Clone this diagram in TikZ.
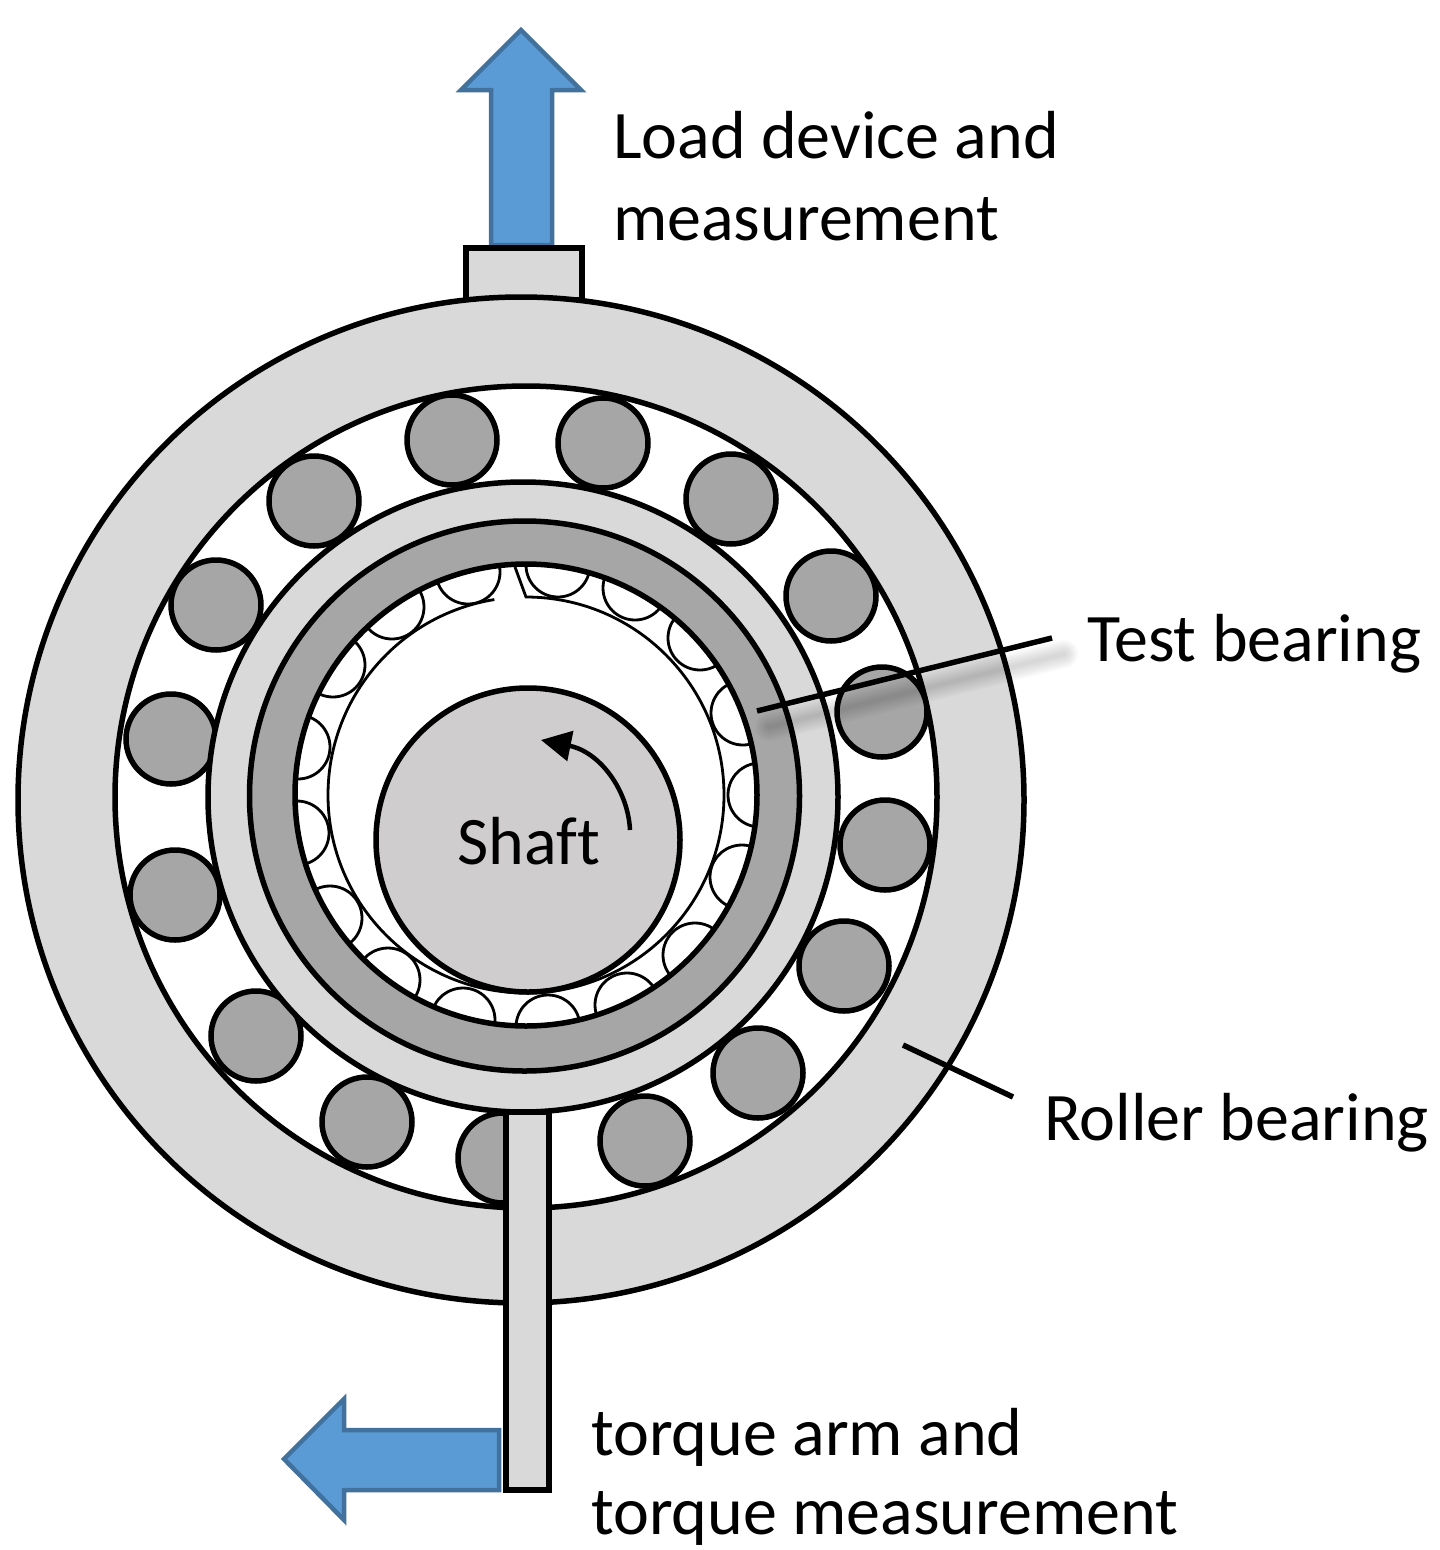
\documentclass[tikz,border=0pt]{standalone}
\usepackage{fontspec}
\setmainfont{Carlito}[Ligatures=NoCommon]
\usetikzlibrary{arrows.meta}
\definecolor{ringgrey}{HTML}{D9D9D9}
\definecolor{ballgrey}{HTML}{A6A6A6}
\definecolor{shaftgrey}{HTML}{CFCDCE}
\definecolor{arrowblue}{HTML}{5B9BD5}
\definecolor{arrowedge}{HTML}{41719C}
\tikzset{
  part/.style={draw=black,line width=5.5pt},
  ringpart/.style={part,fill=ringgrey},
  ballpart/.style={part,fill=ballgrey},
  smallball/.style={draw=black,line width=2.8pt},
  leader/.style={draw=black,line width=5.5pt},
  bluearrow/.style={draw=arrowedge,line width=4.5pt,fill=arrowblue,miter limit=10},
  label/.style={inner sep=0pt,anchor=base west,font=\fontsize{68}{76}\selectfont,text=black},
}
\begin{document}
\begin{tikzpicture}[x=1pt,y=-1pt]
\useasboundingbox (0,0) rectangle (1440,1550);
% load arrow and lug
\draw[bluearrow] (491,245) -- (491,90) -- (461,90) -- (521,30) -- (581,90) -- (552,90) -- (552,245) -- cycle;
\draw[ringpart] (466,248) rectangle (582,300);
% outer ring
\draw[ringpart] (521,800) circle [radius=503];
\draw[part,fill=white] (526,797) circle [radius=411];
% big rollers
\foreach \cx/\cy in {452/440,603/443,731/499,831/596,882/712,885/845,844/966,758/1073,645/1141,503/1158,367/1122,256/1036,175/895,171/739,216/605,314/501}
  \draw[ballpart] (\cx,\cy) circle [radius=45];
% races
\draw[ringpart] (523,797) circle [radius=315];
\draw[part,fill=ballgrey] (524.5,796) circle [radius=275];
\draw[fill=white,draw=none] (526,795) circle [radius=231];
% small rollers of the test bearing
\begin{scope}
\clip (526,795) circle [radius=231];
\foreach \cx/\cy in {468/572,392/607,333/665,298/747,297/833,330/918,388/980,463/1020,548/1027,627/1005,695/955,742/877,760/795,743/713,700/638,635/588,558/565}
  \draw[smallball] (\cx,\cy) circle [radius=32];
\end{scope}
\draw[part,fill=none] (526,795) circle [radius=231];
% inner race with its slot
\coordinate (slotA) at (515,567);
\coordinate (slotB) at (526,597);
\draw[smallball,line join=miter] (slotA) -- (slotB) arc [start angle=-90,end angle=260.8,radius=198];
% shaft
\node (shaft) [circle,draw=black,line width=5.5pt,fill=shaftgrey,minimum size=304pt,inner sep=0pt] at (528,840) {};
\coordinate (spinA) at (630,830);
\coordinate (spinB) at (541,740);
\draw[line width=4.5pt,-{Triangle[length=30pt,width=30pt]}] (spinA) .. controls (628,790) and (600,752) .. (spinB);
\node (shaftlabel) [label] at (457,864) {Shaft};
% torque arrow and arm
\draw[bluearrow] (499,1430) -- (344,1430) -- (344,1399) -- (284,1459) -- (344,1520) -- (344,1490) -- (499,1490) -- cycle;
\draw[ringpart] (506,1112) rectangle (549,1490);
% leaders
\coordinate (testA) at (757,711);
\coordinate (testB) at (1052,638);
\coordinate (rollA) at (903,1045);
\coordinate (rollB) at (1013,1097);
\foreach \w in {4,8,12,16,20,24,28}
  \draw[black,opacity=0.025,line width=\w pt,line cap=round] ([shift={(12,16)}]testA) -- ([shift={(12,16)}]testB);
\draw[leader] (testA) -- (testB);
\draw[leader] (rollA) -- (rollB);
% labels
\node (load1) [label] at (613,158) {Load device and};
\node (load2) [label] at (613,240) {measurement};
\node (test) [label] at (1087,661) {Test bearing};
\node (roller) [label] at (1044,1140) {Roller bearing};
\node (torque1) [label] at (591,1455) {torque arm and};
\node (torque2) [label] at (591,1534) {torque measurement};
\end{tikzpicture}
\end{document}
